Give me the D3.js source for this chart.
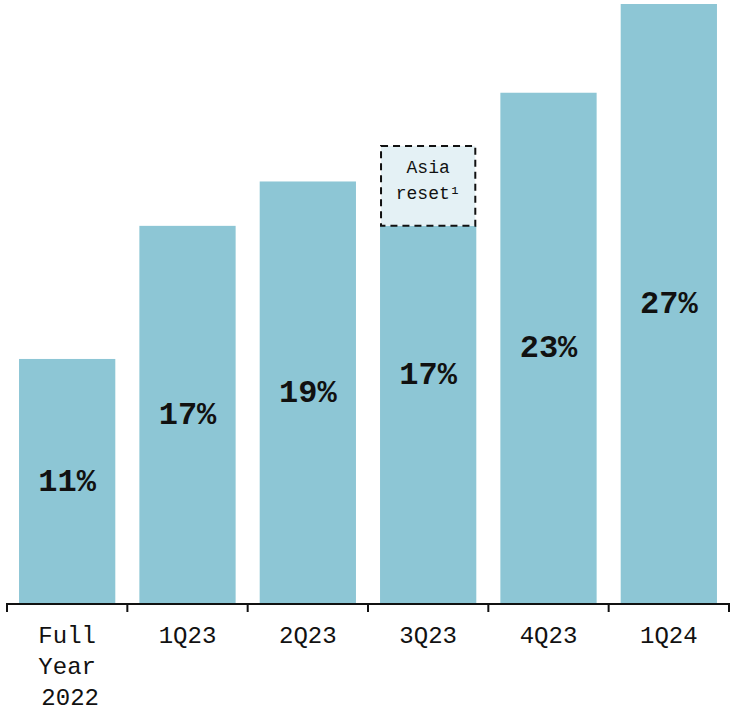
<!DOCTYPE html>
<html>
<head>
<meta charset="utf-8">
<script src="https://cdn.jsdelivr.net/npm/d3@7"></script>
<style>
  html, body { margin: 0; padding: 0; background: #fff; }
  svg { display: block; }
</style>
</head>
<body>
<svg id="chart" width="733" height="712"></svg>
<script>
// Share of revenue by period (%)
const periods = ["Full Year 2022", "1Q23", "2Q23", "3Q23", "4Q23", "1Q24"];
const values = [11, 17, 19, 17, 23, 27];
// 3Q23 level before the Asia reset (%)
const resetPeriod = "3Q23";
const resetValue = 20.6;
const resetNote = ["Asia", "reset\u00B9"];

const W = 733, H = 712;
const margin = { left: 7, right: 4, top: 0, bottom: 109 };
const baseY = H - margin.bottom;

const svg = d3.select("#chart");
const font = "'Liberation Mono', 'DejaVu Sans Mono', monospace";
const barColor = "#8dc6d5";

const x = d3.scaleBand()
  .domain(periods)
  .range([margin.left, W - margin.right])
  .paddingInner(0.2)
  .paddingOuter(0.1);

const y = d3.scaleLinear().domain([0, 27]).range([baseY, 4]);

const data = periods.map((p, i) => ({ p, v: values[i] }));

// Bars
svg.selectAll("rect.bar").data(data).enter().append("rect")
  .attr("class", "bar")
  .attr("x", d => x(d.p))
  .attr("width", x.bandwidth())
  .attr("y", d => y(d.v))
  .attr("height", d => baseY - y(d.v))
  .attr("fill", barColor);

// Asia reset box stacked on 3Q23
const rx = x(resetPeriod);
const rv = values[periods.indexOf(resetPeriod)];
svg.append("rect")
  .attr("x", rx + 1)
  .attr("y", y(resetValue))
  .attr("width", x.bandwidth() - 2)
  .attr("height", y(rv) - y(resetValue))
  .attr("fill", "#e4f1f5")
  .attr("stroke", "#111")
  .attr("stroke-width", 2)
  .attr("stroke-dasharray", "7,5");

svg.selectAll("text.note").data(resetNote).enter().append("text")
  .attr("class", "note")
  .attr("x", rx + x.bandwidth() / 2)
  .attr("y", (d, i) => y(resetValue) + 27 + i * 26)
  .attr("text-anchor", "middle")
  .attr("font-family", font)
  .attr("font-size", 18)
  .attr("fill", "#111")
  .text(d => d);

// Value labels, centred on each bar's full height
svg.selectAll("text.val").data(data).enter().append("text")
  .attr("class", "val")
  .attr("x", d => x(d.p) + x.bandwidth() / 2)
  .attr("y", d => {
    const top = d.p === resetPeriod ? y(resetValue) : y(d.v);
    return (top + baseY) / 2;
  })
  .attr("dy", "0.3em")
  .attr("text-anchor", "middle")
  .attr("font-family", font)
  .attr("font-weight", "bold")
  .attr("font-size", 32)
  .attr("fill", "#111")
  .text(d => d.v + "%");

// Axis with ticks at band boundaries
const axisG = svg.append("g");
axisG.append("line")
  .attr("x1", margin.left).attr("x2", W - margin.right + 1)
  .attr("y1", baseY + 1).attr("y2", baseY + 1)
  .attr("stroke", "#111").attr("stroke-width", 2);
const step = x.step();
const bounds = d3.range(periods.length + 1).map(i => x(periods[0]) - x.paddingOuter() * step + i * step);
axisG.selectAll("line.tick").data(bounds).enter().append("line")
  .attr("class", "tick")
  .attr("x1", d => d).attr("x2", d => d)
  .attr("y1", baseY).attr("y2", baseY + 9)
  .attr("stroke", "#111").attr("stroke-width", 2);

// Category labels
const labelLines = { "Full Year 2022": ["Full", "Year", "2022"] };
const cat = svg.selectAll("g.cat").data(periods).enter().append("g")
  .attr("class", "cat")
  .attr("transform", d => `translate(${x(d) + x.bandwidth() / 2},0)`);
cat.selectAll("text").data(d => labelLines[d] || [d]).enter().append("text")
  .attr("x", (d, i) => i === 2 ? 3 : 0)
  .attr("y", (d, i) => 643 + i * 31)
  .attr("text-anchor", "middle")
  .attr("font-family", font)
  .attr("font-size", 24)
  .attr("fill", "#111")
  .text(d => d);
</script>
</body>
</html>
